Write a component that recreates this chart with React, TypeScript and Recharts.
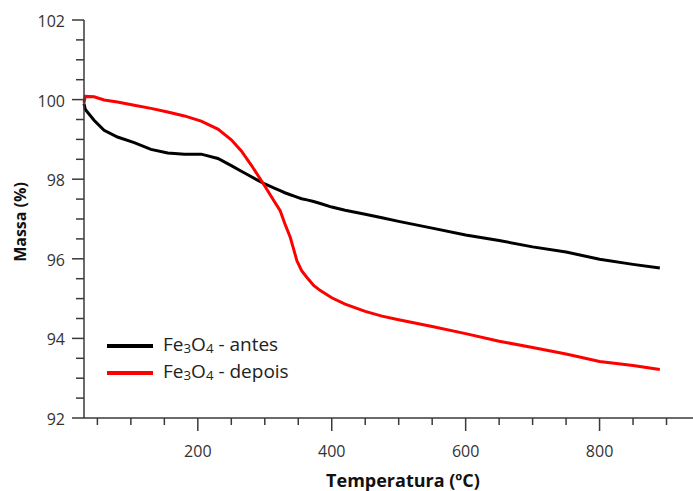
import React from 'react';
import { LineChart, Line, XAxis, YAxis, Legend, Label } from 'recharts';

const temperatures = [30, 32, 45, 60, 80, 105, 130, 155, 180, 205, 230, 250, 265, 280, 300, 315, 323, 330, 338, 343, 348, 355, 363, 373, 383, 400, 420, 450, 475, 500, 550, 600, 650, 700, 750, 800, 850, 890];
const antes = [99.9, 99.75, 99.48, 99.23, 99.06, 98.92, 98.75, 98.66, 98.63, 98.63, 98.52, 98.34, 98.2, 98.06, 97.88, 97.77, 97.71, 97.66, 97.61, 97.58, 97.55, 97.51, 97.48, 97.44, 97.39, 97.3, 97.22, 97.12, 97.03, 96.94, 96.77, 96.6, 96.46, 96.3, 96.17, 95.99, 95.86, 95.77];
const depois = [99.92, 100.08, 100.07, 99.99, 99.94, 99.86, 99.78, 99.69, 99.59, 99.46, 99.26, 98.99, 98.71, 98.35, 97.83, 97.42, 97.21, 96.88, 96.54, 96.25, 95.95, 95.7, 95.53, 95.33, 95.2, 95.02, 94.86, 94.68, 94.56, 94.47, 94.3, 94.12, 93.93, 93.77, 93.61, 93.42, 93.32, 93.22];

const xTicks = [50, 100, 150, 200, 250, 300, 350, 400, 450, 500, 550, 600, 650, 700, 750, 800, 850, 900];
const xMajor = [200, 400, 600, 800];
const yTicks = [92, 92.5, 93, 93.5, 94, 94.5, 95, 95.5, 96, 96.5, 97, 97.5, 98, 98.5, 99, 99.5, 100, 100.5, 101, 101.5, 102];
const yMajor = [92, 94, 96, 98, 100, 102];

const data = temperatures.map((t, i) => ({ t, antes: antes[i], depois: depois[i] }));

const AX = '#3a3a3a';
const FONT = '"Open Sans", "Noto Sans", sans-serif';

const BottomTick = (props: any) => {
  const { x, y, payload } = props;
  const major = xMajor.includes(payload.value);
  return (
    <g>
      <line x1={x} y1={y} x2={x} y2={y + (major ? 13 : 7)} stroke={AX} strokeWidth={1.5} />
      {major && (
        <text x={x} y={y + 39} textAnchor="middle" fill="#333" fontSize={16} fontFamily={FONT}>
          {payload.value}
        </text>
      )}
    </g>
  );
};

const TopTick = (props: any) => {
  const { x, y, payload } = props;
  const major = xMajor.includes(payload.value);
  return <line x1={x} y1={y} x2={x} y2={y + (major ? 13 : 7)} stroke={AX} strokeWidth={1.5} />;
};

const LeftTick = (props: any) => {
  const { x, y, payload } = props;
  const major = yMajor.includes(payload.value);
  return (
    <g>
      <line x1={x - (major ? 12 : 8)} y1={y} x2={x} y2={y} stroke={AX} strokeWidth={1.5} />
      {major && (
        <text x={x - 19} y={y + 7} textAnchor="end" fill="#333" fontSize={16} fontFamily={FONT}>
          {payload.value}
        </text>
      )}
    </g>
  );
};

const RightTick = (props: any) => {
  const { x, y, payload } = props;
  const major = yMajor.includes(payload.value);
  return <line x1={x - (major ? 12 : 8)} y1={y} x2={x} y2={y} stroke={AX} strokeWidth={1.5} />;
};

const legendItems = [
  { color: '#000000', suffix: ' - antes' },
  { color: '#ff0000', suffix: ' - depois' },
];

const LegendContent = () => (
  <div style={{ fontFamily: FONT, fontSize: 19, color: '#222' }}>
    {legendItems.map((it) => (
      <div key={it.suffix} style={{ display: 'flex', alignItems: 'center', height: 27.5 }}>
        <svg width={46} height={6} style={{ marginRight: 10 }}>
          <line x1={0} y1={3} x2={46} y2={3} stroke={it.color} strokeWidth={4} />
        </svg>
        <span style={{ lineHeight: '20px' }}>
          Fe<sub style={{ fontSize: '0.7em', verticalAlign: '-0.15em' }}>3</sub>O
          <sub style={{ fontSize: '0.7em', verticalAlign: '-0.15em' }}>4</sub>
          {it.suffix}
        </span>
      </div>
    ))}
  </div>
);

export default function App() {
  return (
    <div style={{ position: 'absolute', left: 0, top: 0, width: 693, height: 491, overflow: 'hidden', background: '#fff' }}>
      <LineChart width={700} height={491} data={data} margin={{ top: 20, right: 0, left: 24, bottom: 43 }}>
        <XAxis
          xAxisId="b"
          dataKey="t"
          type="number"
          domain={[30, 950]}
          ticks={xTicks}
          interval={0}
          tick={BottomTick}
          tickLine={false}
          tickSize={0}
          tickMargin={0}
          height={30}
          axisLine={{ stroke: AX, strokeWidth: 1.5 }}
        >
          <Label
            content={() => (
              <text x={403} y={480} textAnchor="middle" dominantBaseline="central" fontSize={18} fontWeight="bold" fill="#111" fontFamily={FONT}>
                Temperatura (ºC)
              </text>
            )}
          />
        </XAxis>
        <XAxis
          xAxisId="t"
          orientation="top"
          dataKey="t"
          type="number"
          domain={[30, 950]}
          ticks={xTicks}
          interval={0}
          tick={TopTick}
          tickLine={false}
          tickSize={0}
          tickMargin={0}
          height={0}
          axisLine={{ stroke: AX, strokeWidth: 1.5 }}
        />
        <YAxis
          yAxisId="l"
          type="number"
          domain={[92, 102]}
          ticks={yTicks}
          interval={0}
          tick={LeftTick}
          tickLine={false}
          tickSize={0}
          tickMargin={0}
          width={60}
          axisLine={{ stroke: AX, strokeWidth: 1.5 }}
        >
          <Label
            content={() => (
              <text x={20} y={222} transform="rotate(-90 20 222)" textAnchor="middle" dominantBaseline="central" fontSize={16} fontWeight="bold" fill="#111" fontFamily={FONT}>
                Massa (%)
              </text>
            )}
          />
        </YAxis>
        <YAxis
          yAxisId="r"
          orientation="right"
          type="number"
          domain={[92, 102]}
          ticks={yTicks}
          interval={0}
          tick={RightTick}
          tickLine={false}
          tickSize={0}
          tickMargin={0}
          width={0}
          axisLine={{ stroke: AX, strokeWidth: 1.5 }}
        />
        <Legend
          layout="vertical"
          align="center"
          verticalAlign="middle"
          content={LegendContent}
          wrapperStyle={{ left: 107, top: 332, width: 250, height: 60 }}
        />
        <Line xAxisId="b" yAxisId="l" type="linear" dataKey="antes" stroke="#000000" strokeWidth={3} dot={false} isAnimationActive={false} />
        <Line xAxisId="b" yAxisId="l" type="linear" dataKey="depois" stroke="#ff0000" strokeWidth={3} dot={false} isAnimationActive={false} />
      </LineChart>
    </div>
  );
}
